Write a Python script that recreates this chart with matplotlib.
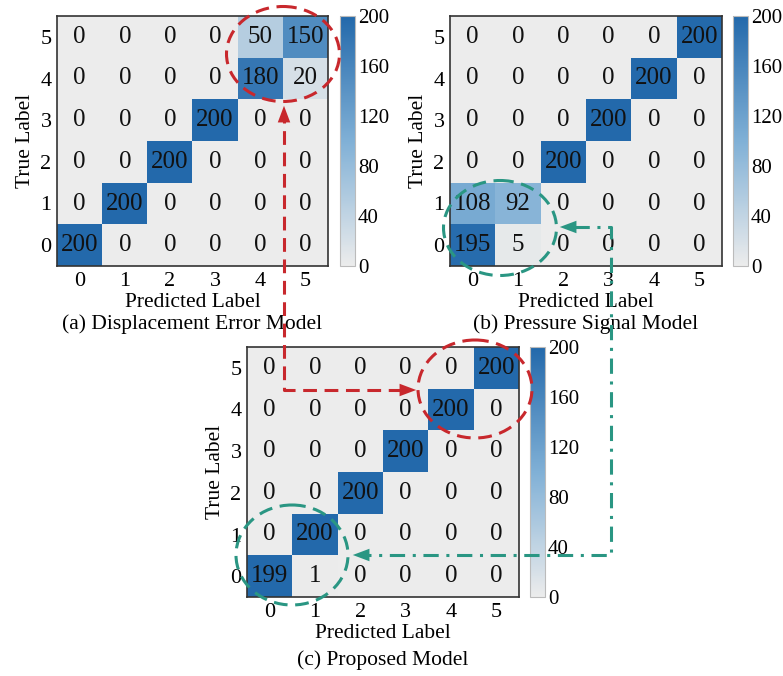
import numpy as np
import matplotlib
matplotlib.use("Agg")
import matplotlib.pyplot as plt
from matplotlib.colors import LinearSegmentedColormap
from matplotlib.patches import Ellipse

plt.rcParams["font.family"] = ["Liberation Serif", "DejaVu Serif"]

labels = [0, 1, 2, 3, 4, 5]
cbar_ticks = [0, 40, 80, 120, 160, 200]

# rows = true label 0..5, columns = predicted label 0..5
cm_displacement = [
    [200, 0, 0, 0, 0, 0],
    [0, 200, 0, 0, 0, 0],
    [0, 0, 200, 0, 0, 0],
    [0, 0, 0, 200, 0, 0],
    [0, 0, 0, 0, 180, 20],
    [0, 0, 0, 0, 50, 150],
]
cm_pressure = [
    [195, 5, 0, 0, 0, 0],
    [108, 92, 0, 0, 0, 0],
    [0, 0, 200, 0, 0, 0],
    [0, 0, 0, 200, 0, 0],
    [0, 0, 0, 0, 200, 0],
    [0, 0, 0, 0, 0, 200],
]
cm_proposed = [
    [199, 1, 0, 0, 0, 0],
    [0, 200, 0, 0, 0, 0],
    [0, 0, 200, 0, 0, 0],
    [0, 0, 0, 200, 0, 0],
    [0, 0, 0, 0, 200, 0],
    [0, 0, 0, 0, 0, 200],
]
captions = ["(a) Displacement Error Model", "(b) Pressure Signal Model", "(c) Proposed Model"]

W, H = 783, 676
fig = plt.figure(figsize=(W / 100, H / 100), dpi=100)

cmap = LinearSegmentedColormap.from_list(
    "gb", [(0.0, "#ececec"), (0.5, "#80b0d6"), (1.0, "#2369ab")]
)


def px_rect(left, top, right, bottom):
    return [left / W, (H - bottom) / H, (right - left) / W, (bottom - top) / H]


def draw_cm(cm, caption, box, cbox, cap_off):
    ax = fig.add_axes(px_rect(*box))
    cax = fig.add_axes(px_rect(*cbox))
    data = np.array(cm)
    im = ax.imshow(data, cmap=cmap, vmin=0, vmax=200, origin="lower", aspect="auto")
    for i in range(data.shape[0]):
        for j in range(data.shape[1]):
            ax.text(j, i, str(data[i, j]), ha="center", va="center", fontsize=18, color="#111111")
    ax.set_xticks(range(len(labels)))
    ax.set_yticks(range(len(labels)))
    ax.set_xticklabels(labels, fontsize=16)
    ax.set_yticklabels(labels, fontsize=16)
    ax.tick_params(length=0, pad=4)
    ax.set_xlabel("Predicted Label", fontsize=15.5, labelpad=2)
    ax.set_ylabel("True Label", fontsize=15.5, labelpad=4)
    for s in ax.spines.values():
        s.set_color("#333333")
        s.set_linewidth(1.2)
    ax.text(0.5, -cap_off / (box[3] - box[1]), caption, transform=ax.transAxes,
            ha="center", va="center", fontsize=15.5)
    cb = fig.colorbar(im, cax=cax, ticks=cbar_ticks)
    cb.ax.tick_params(length=0, labelsize=15, pad=2)
    cb.outline.set_edgecolor("#bbbbbb")
    cb.outline.set_linewidth(0.8)
    return ax


draw_cm(cm_displacement, captions[0], (57, 16, 328, 266), (340, 16, 355, 266), 58)
draw_cm(cm_pressure, captions[1], (450, 16, 722, 266), (733, 16, 748, 266), 58)
draw_cm(cm_proposed, captions[2], (247, 347, 519, 597), (530, 347, 545, 597), 63)

# annotation overlay in pixel coordinates
ov = fig.add_axes([0, 0, 1, 1], zorder=10)
ov.set_xlim(0, W)
ov.set_ylim(H, 0)
ov.axis("off")
ov.patch.set_alpha(0)

red = "#c8282d"
teal = "#2a9683"
lw = 2.2

for (cx, cy, ew, eh, col) in [(283, 54, 113, 95, red), (475, 389, 114, 98, red),
                              (500, 228, 113, 95, teal), (292, 555, 112, 100, teal)]:
    ov.add_patch(Ellipse((cx, cy), ew, eh, fill=False, edgecolor=col, lw=lw,
                         linestyle=(0, (4.5, 2.5))))

head = "-|>,head_length=1.2,head_width=0.45"
ov.plot([402, 284, 284], [390, 390, 120], color=red, lw=lw, linestyle=(0, (4.5, 2.5)))
ov.annotate("", xy=(284, 103), xytext=(284, 121),
            arrowprops=dict(arrowstyle=head, color=red, lw=0, mutation_scale=10))
ov.annotate("", xy=(419, 390), xytext=(401, 390),
            arrowprops=dict(arrowstyle=head, color=red, lw=0, mutation_scale=10))

ov.plot([574, 611, 611, 367], [227, 227, 555, 555], color=teal, lw=lw,
        linestyle=(0, (5, 2.5, 1, 2.5)))
ov.annotate("", xy=(557, 227), xytext=(575, 227),
            arrowprops=dict(arrowstyle=head, color=teal, lw=0, mutation_scale=10))
ov.annotate("", xy=(350, 555), xytext=(368, 555),
            arrowprops=dict(arrowstyle=head, color=teal, lw=0, mutation_scale=10))

fig.savefig("out.png", dpi=100)
